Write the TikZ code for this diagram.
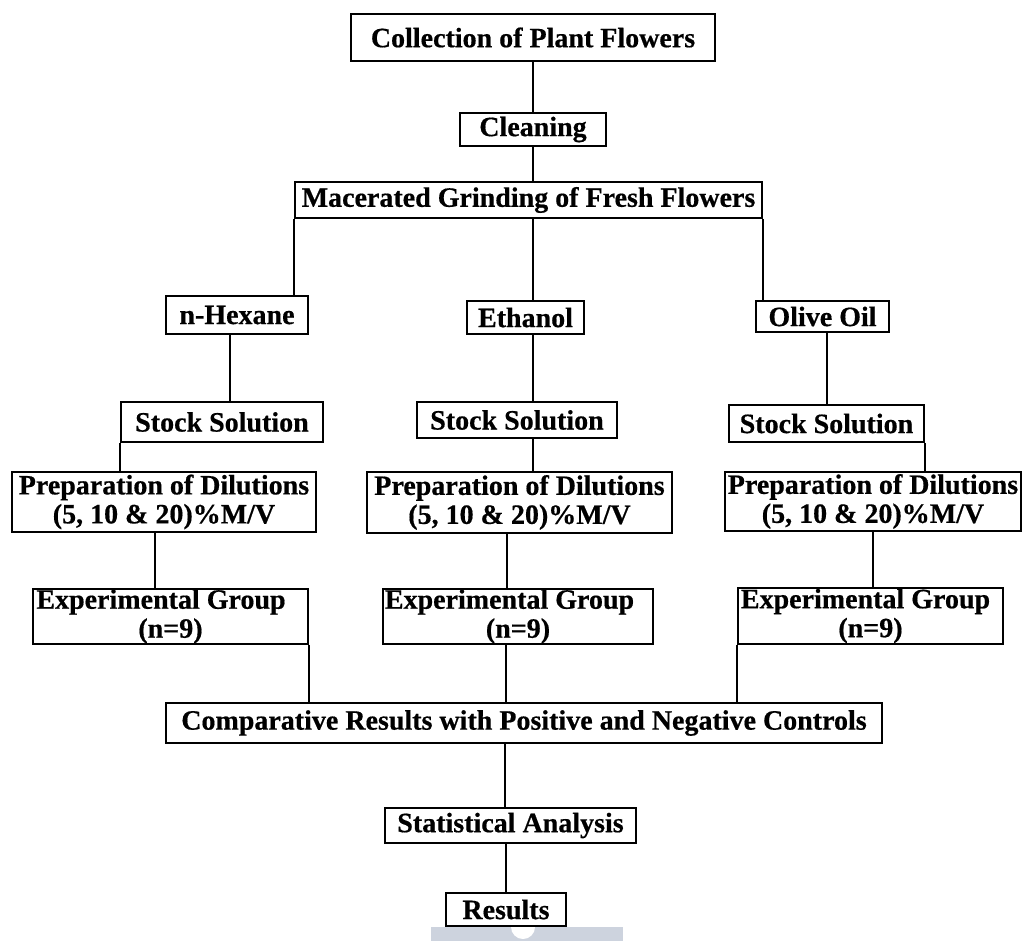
\documentclass[tikz,border=0pt]{standalone}
\usepackage{fontspec}
\setmainfont{Liberation Serif}[BoldFeatures={FakeBold=0.5}]
\usepackage{tikz}
\definecolor{barblue}{RGB}{205,211,222}

\begin{document}
\begin{tikzpicture}[x=1pt, y=-1pt, line width=1.6pt,
  box/.style={draw, fill=white, inner sep=0pt, align=center,
    font=\bfseries\fontsize{28}{29}\selectfont}]

\useasboundingbox (0,0) rectangle (1022,941);
\fill[barblue] (431,927) rectangle (623,941);
\fill[white] (523,927) circle[radius=12];

\node[box, minimum width=364pt, minimum height=47pt] (coll) at (533,37.5) {Collection of Plant Flowers};
\node[box, minimum width=146pt, minimum height=33pt] (clean) at (533,129.5) {Cleaning};
\node[box, minimum width=467pt, minimum height=36pt] (mac) at (528.5,200) {Macerated Grinding of Fresh Flowers};

\node[box, minimum width=142pt, minimum height=38pt] (hex) at (237,315) {n-Hexane};
\node[box, minimum width=117pt, minimum height=33pt] (eth) at (525.5,317.5) {Ethanol};
\node[box, minimum width=133pt, minimum height=31pt] (oil) at (822.5,316.5) {Olive Oil};

\node[box, minimum width=202pt, minimum height=40pt] (hexst) at (222,422) {Stock Solution};
\node[box, minimum width=200pt, minimum height=36pt] (ethst) at (517,420) {Stock Solution};
\node[box, minimum width=195pt, minimum height=37pt] (oilst) at (826.5,423.5) {Stock Solution};

\node[box, minimum width=304pt, minimum height=60pt] (hexdil) at (164,502) {Preparation of Dilutions\\(5, 10 \& 20)\%M/V};
\node[box, minimum width=305pt, minimum height=61pt] (ethdil) at (519.5,502.5) {Preparation of Dilutions\\(5, 10 \& 20)\%M/V};
\node[box, minimum width=296pt, minimum height=59pt] (oildil) at (873,501.5) {Preparation of Dilutions\\(5, 10 \& 20)\%M/V};

\node[box, minimum width=275pt, minimum height=55pt] (hexgr) at (170.5,616.5) {Experimental Group\hspace*{19pt}\\(n=9)};
\node[box, minimum width=270pt, minimum height=55pt] (ethgr) at (518,616.5) {Experimental Group\hspace*{17pt}\\(n=9)};
\node[box, minimum width=265pt, minimum height=56pt] (oilgr) at (870.5,616) {Experimental Group\hspace*{10pt}\\(n=9)};

\node[box, minimum width=716pt, minimum height=40pt] (comp) at (524,723) {Comparative Results with Positive and Negative Controls};
\node[box, minimum width=251pt, minimum height=35pt] (stat) at (510.5,825.5) {Statistical Analysis};
\node[box, minimum width=120pt, minimum height=33pt] (res) at (506,909.5) {Results};

\draw (coll.south) -- (clean.north);
\draw (clean.south) -- (clean.south |- mac.north);
\draw (mac.south west) -- (mac.south west |- hex.north);
\draw ([xshift=4.5pt]mac.south) -- ([xshift=4.5pt]mac.south |- eth.north);
\draw (mac.south east) -- (mac.south east |- oil.north);

\draw ([xshift=-7pt]hex.south) -- ([xshift=-7pt]hex.south |- hexst.north);
\draw (hexst.south west) -- (hexst.south west |- hexdil.north);
\draw ([xshift=-9pt]hexdil.south) -- ([xshift=-9pt]hexdil.south |- hexgr.north);
\draw (hexgr.south east) -- (hexgr.south east |- comp.north);

\draw ([xshift=7.5pt]eth.south) -- ([xshift=7.5pt]eth.south |- ethst.north);
\draw ([xshift=16pt]ethst.south) -- ([xshift=16pt]ethst.south |- ethdil.north);
\draw ([xshift=-12.5pt]ethdil.south) -- ([xshift=-12.5pt]ethdil.south |- ethgr.north);
\draw ([xshift=-12pt]ethgr.south) -- ([xshift=-12pt]ethgr.south |- comp.north);

\draw ([xshift=4.5pt]oil.south) -- ([xshift=4.5pt]oil.south |- oilst.north);
\draw (oilst.south east) -- (oilst.south east |- oildil.north);
\draw (oildil.south) -- (oildil.south |- oilgr.north);
\draw (oilgr.south west) -- (oilgr.south west |- comp.north);

\draw ([xshift=-19pt]comp.south) -- ([xshift=-19pt]comp.south |- stat.north);
\draw ([xshift=-4.5pt]stat.south) -- ([xshift=-4.5pt]stat.south |- res.north);

\end{tikzpicture}
\end{document}
